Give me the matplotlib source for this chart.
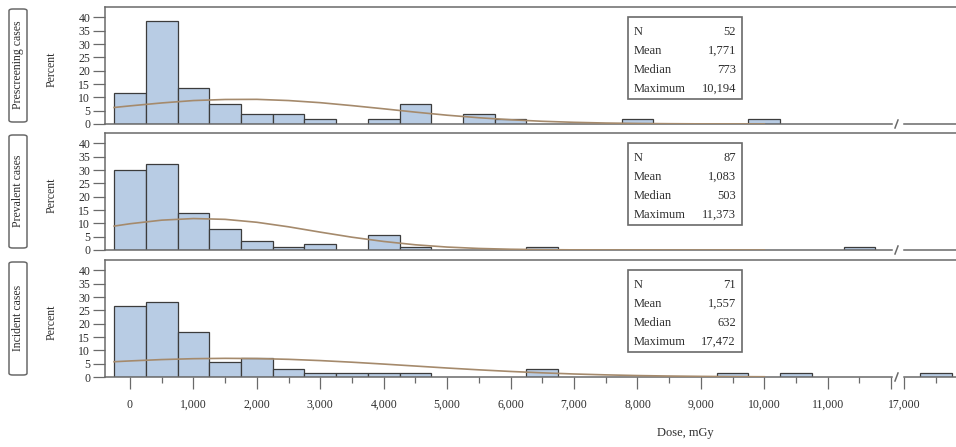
import matplotlib

matplotlib.use("Agg")
import matplotlib.pyplot as plt
from matplotlib.lines import Line2D
from matplotlib.patches import FancyBboxPatch, Rectangle

W, H = 956, 447

BIN_CENTERS = [0, 500, 1000, 1500, 2000, 2500, 3000, 3500, 4000, 4500, 5000, 5500,
               6000, 6500, 7000, 7500, 8000, 8500, 9000, 9500, 10000, 10500, 11000, 11500]
TAIL_BINS = [17500]
CURVE_X = [-250, 0, 500, 1000, 1500, 2000, 2500, 3000, 3500, 4000, 4500, 5000, 5500,
           6000, 6500, 7000, 7500, 8000, 8500, 9000, 9500, 10000]

PANEL_LABELS = ["Prescreening cases", "Prevalent cases", "Incident cases"]
STAT_NAMES = ["N", "Mean", "Median", "Maximum"]

prescreening_stats = ["52", "1,771", "773", "10,194"]
prevalent_stats = ["87", "1,083", "503", "11,373"]
incident_stats = ["71", "1,557", "632", "17,472"]

# percent of cases per 500 mGy bin
prescreening_pct = [11.54, 38.46, 13.46, 7.69, 3.85, 3.85, 1.92, 0, 1.92, 7.69, 0, 3.85,
                    1.92, 0, 0, 0, 1.92, 0, 0, 0, 1.92, 0, 0, 0]
prevalent_pct = [29.89, 32.18, 13.79, 8.05, 3.45, 1.15, 2.30, 0, 5.75, 1.15, 0, 0,
                 0, 1.15, 0, 0, 0, 0, 0, 0, 0, 0, 0, 1.15]
incident_pct = [26.76, 28.17, 16.90, 5.63, 7.04, 2.82, 1.41, 1.41, 1.41, 1.41, 0, 0,
                0, 2.82, 0, 0, 0, 0, 0, 1.41, 0, 1.41, 0, 0]
prescreening_tail = [0]
prevalent_tail = [0]
incident_tail = [1.41]

# fitted normal curve
prescreening_curve = [6.2, 6.8, 7.9, 8.8, 9.2, 9.25, 8.8, 8.0, 6.9, 5.7, 4.45, 3.3, 2.35,
                      1.59, 1.02, 0.63, 0.36, 0.20, 0.11, 0.05, 0.03, 0.01]
prevalent_curve = [8.97, 9.85, 11.2, 11.8, 11.5, 10.4, 8.7, 6.7, 4.8, 3.2, 1.95, 1.1, 0.58,
                   0.28, 0.13, 0.05, 0.02, 0.01, 0, 0, 0, 0]
incident_curve = [5.73, 6.03, 6.54, 6.87, 7.0, 6.92, 6.63, 6.16, 5.55, 4.85, 4.11, 3.37, 2.69,
                  2.08, 1.56, 1.13, 0.80, 0.54, 0.36, 0.23, 0.14, 0.09]

PANELS = [
    (prescreening_pct, prescreening_tail, prescreening_curve, prescreening_stats),
    (prevalent_pct, prevalent_tail, prevalent_curve, prevalent_stats),
    (incident_pct, incident_tail, incident_curve, incident_stats),
]

BAR_FILL = "#b8cce4"
BAR_EDGE = "#3c3c3c"
CURVE_COLOR = "#a58a6c"
FRAME = "#6a6a6a"
TEXT = "#2e2e2e"

plt.rcParams["font.family"] = ["Liberation Serif", "DejaVu Serif"]


def fx(px):
    return px / W


def fy(py):
    return 1 - py / H


fig = plt.figure(figsize=(W / 100, H / 100), dpi=100)

tops = [7, 133, 260]
plot_h = 117
for i, (top, (pct, tail_pct, curve, stats)) in enumerate(zip(tops, PANELS)):
    base = top + plot_h
    last = i == len(PANELS) - 1

    main = fig.add_axes([fx(105), fy(base), (892 - 105) / W, plot_h / H])
    tail = fig.add_axes([fx(904), fy(base), (956 - 904) / W, plot_h / H])

    xs = [c for c, p in zip(BIN_CENTERS, pct) if p > 0]
    hs = [p for p in pct if p > 0]
    main.bar(xs, hs, width=500, color=BAR_FILL, edgecolor=BAR_EDGE, linewidth=0.9, zorder=2)
    main.plot(CURVE_X, curve, color=CURVE_COLOR, linewidth=1.2, zorder=3)
    txs = [c for c, p in zip(TAIL_BINS, tail_pct) if p > 0]
    ths = [p for p in tail_pct if p > 0]
    tail.bar(txs, ths, width=500, color=BAR_FILL, edgecolor=BAR_EDGE, linewidth=0.9, zorder=2)

    main.set_xlim(-394, 12013)
    tail.set_xlim(17000, 17820)
    for ax in (main, tail):
        ax.set_ylim(0, 43.9)
        ax.patch.set_alpha(0)
        for side in ("top", "right", "left"):
            ax.spines[side].set_visible(False)
        ax.spines["bottom"].set_color(FRAME)
        ax.spines["bottom"].set_linewidth(1.1)
    main.spines["left"].set_visible(True)
    main.spines["left"].set_color(FRAME)
    main.spines["left"].set_linewidth(1.1)

    main.set_yticks(range(0, 41, 5))
    main.tick_params(axis="y", direction="out", length=8.6, width=0.9, pad=2,
                     labelsize=8.5, colors=FRAME, labelcolor=TEXT)
    tail.set_yticks([])

    if last:
        main.set_xticks(range(0, 12001, 1000))
        main.set_xticklabels([f"{v:,}" for v in range(0, 11001, 1000)] + [""])
        main.set_xticks(range(500, 12000, 1000), minor=True)
        tail.set_xticks([17000])
        tail.set_xticklabels(["17,000"])
        tail.set_xticks([17500], minor=True)
        for ax in (main, tail):
            ax.tick_params(axis="x", which="major", direction="out", length=8.6, width=0.9,
                           pad=7, labelsize=8.5, colors=FRAME, labelcolor=TEXT)
            ax.tick_params(axis="x", which="minor", direction="out", length=4, width=0.9,
                           colors=FRAME)
    else:
        for ax in (main, tail):
            ax.set_xticks([])

    # top frame line running across the break
    fig.add_artist(Line2D([fx(105), fx(956)], [fy(top), fy(top)], color=FRAME, linewidth=1.1))
    # axis break mark
    fig.add_artist(Line2D([fx(895), fx(898)], [fy(base + 4), fy(base - 4)],
                          color=FRAME, linewidth=1.1))

    # statistics box
    fig.add_artist(Rectangle((fx(628), fy(top + 92)), (742 - 628) / W, 82 / H,
                             transform=fig.transFigure, facecolor="white",
                             edgecolor=FRAME, linewidth=1.2))
    for j, (name, value) in enumerate(zip(STAT_NAMES, stats)):
        y = fy(top + 25 + 18.9 * j)
        fig.text(fx(634), y, name, ha="left", va="center", fontsize=9, color=TEXT)
        fig.text(fx(736), y, value, ha="right", va="center", fontsize=9, color=TEXT)

    # row label box
    fig.add_artist(FancyBboxPatch((fx(9), fy(top + 115)), (27 - 9) / W, 113 / H,
                                  boxstyle="round,pad=0,rounding_size=0.004",
                                  transform=fig.transFigure, facecolor="white",
                                  edgecolor=FRAME, linewidth=1.1))
    fig.text(fx(18), fy(top + 58), PANEL_LABELS[i], rotation=90, ha="center", va="center",
             fontsize=8.5, color=TEXT)
    fig.text(fx(52), fy(top + 62), "Percent", rotation=90, ha="center", va="center",
             fontsize=8.5, color=TEXT)

fig.text(fx(685), fy(433), "Dose, mGy", ha="center", va="center", fontsize=9, color=TEXT)

fig.savefig("out.png", dpi=100)
